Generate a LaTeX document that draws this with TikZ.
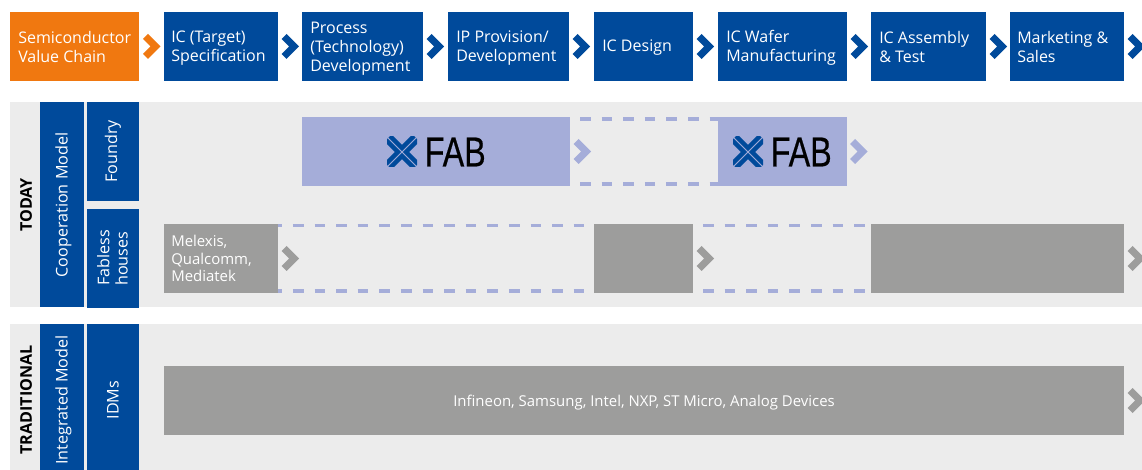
\documentclass[tikz,border=0pt]{standalone}
\usepackage{fontspec}
\setmainfont{Open Sans}
\newfontfamily\fabfont{Liberation Sans}[FakeBold=0.5]
\definecolor{vcblue}{HTML}{004A9B}
\definecolor{vcorange}{HTML}{F07810}
\definecolor{vcgray}{HTML}{9D9D9C}
\definecolor{vcband}{HTML}{ECECEC}
\definecolor{vclight}{HTML}{A5ADD9}
\tikzset{
  cell/.style={anchor=north west,inner sep=0pt,outer sep=0pt},
  celltext/.style={anchor=west,inner sep=0pt,text=white,align=left,font=\fontsize{12}{14.4}\selectfont},
  graytext/.style={celltext,font=\fontsize{11.2}{13.2}\selectfont},
  vlabel/.style={rotate=90,inner sep=0pt,text=white,align=left,font=\fontsize{12.1}{13.6}\selectfont},
  sidelabel/.style={rotate=90,inner sep=0pt,text=black,font=\fontsize{12.1}{13}\selectfont\bfseries},
  rail/.style={vclight,line width=2.3pt,dash pattern=on 8pt off 8.2pt},
  logoarm/.style={vcblue,line width=3.2pt,line join=miter,line cap=butt},
}
% \bx{name}{x1}{y1}{x2}{y2}{colour}
\newcommand{\bx}[6]{%
  \pgfmathsetmacro{\bw}{(#4-#2)*0.75}\pgfmathsetmacro{\bh}{(#5-#3)*0.75}%
  \node[cell,fill=#6,minimum width=\bw pt,minimum height=\bh pt] (#1) at (#2,#3) {};}
% \lbl{style}{name}{box}{dx px}{dy px}{text}
\newcommand{\lbl}[6]{\node[#1,xshift=#4*0.75pt,yshift=-#5*0.75pt] (#2) at (#3.west) {#6};}
% chevron: \chev{colour}{anchor node}{dx}{half height}
\newcommand{\chev}[4]{%
  \begin{scope}[shift={(#2)},xshift=#3*0.75pt,x=#4*0.06pt,y=-#4*0.06pt]
  \fill[#1] (5,-12.5) -- (17.5,0) -- (5,12.5) -- (0,7.5) -- (7.5,0) -- (0,-7.5) -- cycle;
  \end{scope}}
% logo
\newcommand{\fablogo}[3]{%
  \begin{scope}[shift={(#2,#3)}]
    \clip (0,-15) rectangle (30,15);
    \draw[logoarm] (3,-16) -- (15,-4) -- (27,-16);
    \draw[logoarm] (3,16) -- (15,4) -- (27,16);
    \draw[logoarm] (-1,-12) -- (11,0) -- (-1,12);
    \draw[logoarm] (31,-12) -- (19,0) -- (31,12);
  \end{scope}
  \node[inner sep=0pt,anchor=west,text=black,font=\fabfont\fontsize{31.4}{32}\selectfont] (#1) at (#2+37.5,#3) {\scalebox{0.77}[1]{FAB}};}
\begin{document}
\begin{tikzpicture}[x=0.75pt,y=-0.75pt]
\useasboundingbox (0,0) rectangle (1142,470);
\fill[white] (0,0) rectangle (1142,470);
% bands
\bx{bandtoday}{10}{102}{1142}{307}{vcband}
\bx{bandtrad}{10}{324}{1142}{470}{vcband}
% header
\bx{h0}{10}{12}{139}{81}{vcorange}
\bx{h1}{164}{12}{278}{81}{vcblue}
\bx{h2}{302}{12}{423}{81}{vcblue}
\bx{h3}{448}{12}{569}{81}{vcblue}
\bx{h4}{594}{12}{693}{81}{vcblue}
\bx{h5}{718}{12}{847}{81}{vcblue}
\bx{h6}{871}{12}{986}{81}{vcblue}
\bx{h7}{1010}{12}{1124}{81}{vcblue}
\lbl{celltext}{t0}{h0}{8}{0.5}{Semiconductor\\Value Chain}
\lbl{celltext}{t1}{h1}{7}{1.5}{IC (Target)\\Specification}
\lbl{celltext}{t2}{h2}{8}{2.5}{Process\\(Technology)\\Development}
\lbl{celltext}{t3}{h3}{8}{1.5}{IP Provision/\\Development}
\lbl{celltext}{t4}{h4}{8}{1.5}{IC Design}
\lbl{celltext}{t5}{h5}{8}{1.5}{IC Wafer\\Manufacturing}
\lbl{celltext}{t6}{h6}{8}{0.5}{IC Assembly\\\& Test}
\lbl{celltext}{t7}{h7}{7}{0.5}{Marketing \&\\Sales}
\chev{vcorange}{h0.east}{4}{12.5}
\foreach \n in {1,...,7}{\chev{vcblue}{h\n.east}{3.5}{12.5}}
% side columns
\bx{colcoop}{40}{102}{84}{307}{vcblue}
\bx{colfoundry}{87}{102}{139}{201}{vcblue}
\bx{colfabless}{87}{209}{139}{308}{vcblue}
\bx{colint}{40}{324}{84}{470}{vcblue}
\bx{colidm}{87}{324}{139}{470}{vcblue}
\node[sidelabel] (ltoday) at (26,205) {TODAY};
\node[sidelabel] (ltrad) at (26,400) {TRADITIONAL};
\node[vlabel] (lcoop) at (63.5,205) {Cooperation Model};
\node[vlabel] (lint) at (63.5,400) {Integrated Model};
\node[vlabel] (lfoundry) at (113,151.5) {Foundry};
\node[vlabel] (lfabless) at (112.5,258) {Fabless\\houses};
\node[vlabel] (lidm) at (113,400) {IDMs};
% rows
\bx{fab1}{302}{117}{570}{186}{vclight}
\bx{fab2}{718}{117}{847}{186}{vclight}
\bx{gr1}{164}{224}{278}{293}{vcgray}
\bx{gr2}{594}{224}{693}{293}{vcgray}
\bx{gr3}{871}{224}{1124}{293}{vcgray}
\bx{idm}{164}{366}{1124}{435}{vcgray}
\lbl{graytext}{tg1}{gr1}{7}{0}{Melexis,\\Qualcomm,\\Mediatek}
\node[graytext,anchor=center,align=center] (tidm) at ([yshift=-1.2pt]idm.center) {Infineon, Samsung, Intel, NXP, ST Micro, Analog Devices};
% dashed rails
\draw[rail] ([xshift=7.5pt,yshift=-1.5pt]fab1.north east) -- ([yshift=-1.5pt]fab2.north west);
\draw[rail] ([xshift=7.5pt,yshift=1.5pt]fab1.south east) -- ([yshift=1.5pt]fab2.south west);
\draw[rail,dash phase=5pt] ([yshift=-1.2pt]gr1.north east) -- ([xshift=-6.75pt,yshift=-1.2pt]gr2.north west);
\draw[rail,dash phase=5pt] ([yshift=1.5pt]gr1.south east) -- ([xshift=-6.75pt,yshift=1.5pt]gr2.south west);
\draw[rail] ([xshift=7.5pt,yshift=-1.2pt]gr2.north east) -- ([xshift=-4.5pt,yshift=-1.2pt]gr3.north west);
\draw[rail] ([xshift=7.5pt,yshift=1.5pt]gr2.south east) -- ([xshift=-4.5pt,yshift=1.5pt]gr3.south west);
% row chevrons
\chev{vclight}{fab1.east}{3.5}{12.5}
\chev{vclight}{fab2.east}{3}{12.5}
\chev{vcgray}{gr1.east}{3.5}{12.5}
\chev{vcgray}{gr2.east}{3.5}{12.5}
\chev{vcgray}{gr3.east}{3.5}{12.5}
\chev{vcgray}{idm.east}{3.5}{12.5}
% logos
\fablogo{logoa}{387}{152}
\fablogo{logob}{733}{152}
\end{tikzpicture}
\end{document}
